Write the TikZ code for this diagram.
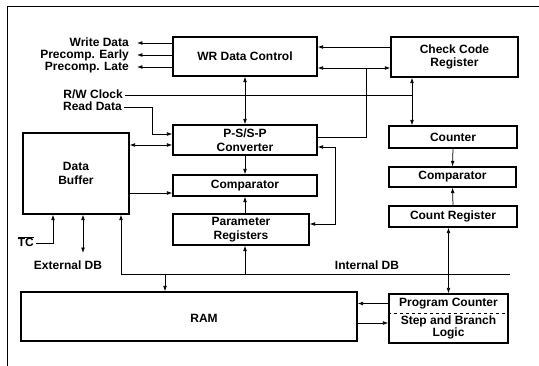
\documentclass[tikz,border=0pt]{standalone}
\usepackage{fontspec}
\setmainfont{Liberation Sans}
\usetikzlibrary{arrows.meta,positioning,calc}
\newcommand{\sigfont}{\fontsize{12pt}{13.8pt}\selectfont\bfseries}
\tikzset{
  blockbox/.style={draw, line width=1.3pt, inner sep=0pt, align=center, font=\sigfont},
  sigtext/.style={font=\sigfont, inner sep=0pt, anchor=east, text height=8pt, text depth=0pt},
  flowln/.style={-{Latex[length=5.4pt,width=3.8pt]}, line width=0.75pt},
  bothln/.style={{Latex[length=5.4pt,width=3.8pt]}-{Latex[length=5.4pt,width=3.8pt]}, line width=0.75pt},
  plainln/.style={line width=0.75pt},
  frameln/.style={line width=1pt},
}

\begin{document}
\begin{tikzpicture}[x=1pt, y=-1pt]
  \useasboundingbox (0,0) rectangle (539,366);
  % Frame
  \draw[frameln] (7,366) -- (7,7) -- (539,7);
  % Blocks, left and middle
  \node[blockbox, minimum width=144pt, minimum height=39pt] (wr) at (245,56.5) {WR Data Control};
  \node[blockbox, minimum width=144pt, minimum height=30pt] (conv) at (245,140) {P-S/S-P\\Converter};
  \node[blockbox, minimum width=144pt, minimum height=21pt] (cmp) at (245,185.5) {Comparator};
  \node[blockbox, minimum width=136pt, minimum height=31pt] (par) at (241,229.5) {Parameter\\Registers};
  \node[blockbox, minimum width=106pt, minimum height=81pt] (buf) at (76,173.5) {Data\\Buffer};
  \node[blockbox, minimum width=336pt, minimum height=49pt] (ram) at (189,316.5) {};
  \node[font=\sigfont] (ramtxt) at (204,318) {RAM};
  % Blocks, right column
  \node[blockbox, minimum width=127pt, minimum height=40pt] (ccr) at (454.5,57) {Check Code\\Register};
  \node[blockbox, minimum width=128pt, minimum height=22pt] (cnt) at (453,137) {Counter};
  \node[blockbox, minimum width=127pt, minimum height=20pt] (cmpb) at (452.5,177) {Comparator};
  \node[blockbox, minimum width=128pt, minimum height=21pt] (creg) at (453,216.5) {Count Register};
  \node[blockbox, minimum width=119pt, minimum height=49pt] (pc) at (448.5,318.5) {};
  \node[font=\sigfont] (pctop) at (448.5,303.5) {Program Counter};
  \node[font=\fontsize{12pt}{12pt}\selectfont\bfseries, align=center] (pcbot) at (448.5,327.5) {Step and Branch\\Logic};
  \draw[dashed, line width=0.8pt] (pc.west |- 0,313) -- (pc.east |- 0,313);
  % Signal names
  \node[sigtext] (wdata) at (129,43) {Write Data};
  \node[sigtext] (pearly) at (129,55) {Precomp. Early};
  \node[sigtext] (plate) at (129,67) {Precomp. Late};
  \node[sigtext] (rwclk) at (123,95) {R/W Clock};
  \node[sigtext] (rdata) at (122,107) {Read Data};
  \node[sigtext] (tc) at (34,243) {$\overline{\hbox{TC}}$};
  \node[font=\sigfont] (extdb) at (68,265) {External DB};
  \node[font=\sigfont] (intdb) at (367,265) {Internal DB};
  \coordinate (dbend) at (510,274);
  % WR Data Control outputs
  \draw[flowln] (wr.west |- wdata) -- ([xshift=8pt]wdata.east);
  \draw[flowln] (wr.west |- pearly) -- ([xshift=8pt]pearly.east);
  \draw[flowln] (wr.west |- plate) -- ([xshift=8pt]plate.east);
  % Check code paths
  \draw[flowln] (ccr.west |- 0,47) -- (wr.east |- 0,47);
  \draw[bothln] (wr.east |- 0,68) -- (ccr.west |- 0,68);
  \draw[plainln] (conv.east |- 0,137) -| (366,68);
  \draw[plainln] ([xshift=2pt]rwclk.east) -- (412,95);
  \draw[bothln] (ccr.south -| 412,0) -- (cnt.north -| 412,0);
  % Converter and comparator
  \draw[flowln] ([xshift=2pt]rdata.east) -| (152,134) -- (conv.west |- 0,134);
  \draw[bothln] (wr.south) -- (conv.north);
  \draw[bothln] (buf.east |- 0,145) -- (conv.west |- 0,145);
  \draw[flowln] (buf.east |- 0,193) -- (cmp.west |- 0,193);
  \draw[flowln] (conv.south) -- (cmp.north);
  \draw[flowln] (cmp.south |- par.north) -- (cmp.south);
  \draw[bothln] (conv.east |- 0,147) -- (335,147) -- (335,224) -- (par.east |- 0,224);
  % Data Buffer below
  \draw[flowln] ([xshift=2pt]tc.east) -| (buf.south -| 53,0);
  \draw[bothln] (buf.south -| 83,0) -- (83,253);
  % Internal DB
  \draw[flowln] (dbend) -| (buf.south -| 121,0);
  \draw[flowln] (dbend -| 165,0) -- (ram.north -| 165,0);
  \draw[flowln] (cmp.south |- dbend) -- (cmp.south |- par.south);
  \draw[bothln] (creg.south -| pc.north) -- (pc.north);
  % Right column
  \draw[flowln] (cnt.south) -- (cmpb.north);
  \draw[flowln] (creg.north) -- (cmpb.south);
  % RAM and program counter
  \draw[flowln] (pc.west |- pctop) -- (ram.east |- pctop);
  \draw[flowln] (ram.east |- 0,323) -- (pc.west |- 0,323);
\end{tikzpicture}
\end{document}
